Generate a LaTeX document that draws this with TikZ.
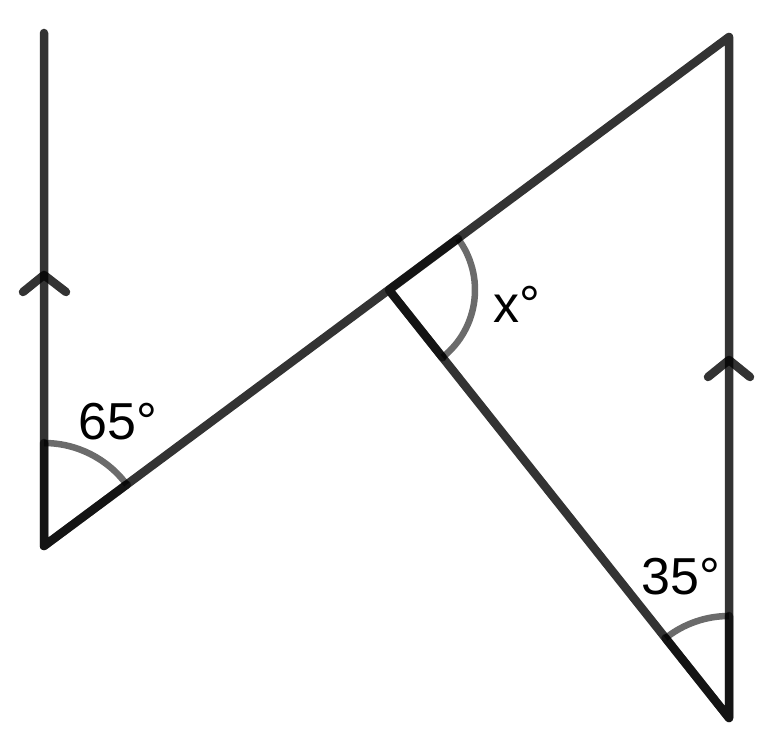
\documentclass[tikz,border=0pt]{standalone}
\usepackage{fontspec}
\setmainfont{Liberation Sans}
\usetikzlibrary{calc}
\begin{document}
\begin{tikzpicture}[x=1pt,y=1pt,
  seg/.style={line width=8.5pt,line cap=round,line join=round,draw=black,draw opacity=0.8},
  inner/.style={line width=8.5pt,line cap=round,line join=round,draw=black,draw opacity=0.6},
  anglearc/.style={line width=6.5pt,draw=black!58},
  lbl/.style={font=\fontsize{52}{52}\selectfont,inner sep=0pt,anchor=base west}]
\useasboundingbox (0,0) rectangle (777,750);
\coordinate (A) at (44,204);
\coordinate (L) at (44,717);
\coordinate (T) at (729,713);
\coordinate (B) at (729,32);
\coordinate (M) at (389,460);
\coordinate (CL) at (44,475);
\coordinate (CR) at (729,390);
% angle arcs
\draw[anglearc] ($(A)+(90:103)$) arc[start angle=90,end angle=36.6,radius=103];
\draw[anglearc] ($(M)+(36.6:86)$) arc[start angle=36.6,end angle=-51.5,radius=86];
\draw[anglearc] ($(B)+(90:102)$) arc[start angle=90,end angle=128.5,radius=102];
% main lines
\draw[seg] (L) -- (A) -- (T) -- (B) -- (M);
% darker sides inside arcs
\draw[inner] ($(A)!103pt!(L)$) -- (A) -- ($(A)!103pt!(T)$);
\draw[inner] ($(M)!86pt!(T)$) -- (M) -- ($(M)!86pt!(B)$);
\draw[inner] ($(B)!102pt!(T)$) -- (B) -- ($(B)!102pt!(M)$);
% parallel marks
\draw[seg] ($(CL)+(-21,-17)$) -- (CL) -- ($(CL)+(22,-17)$);
\draw[seg] ($(CR)+(-21,-17)$) -- (CR) -- ($(CR)+(21,-17)$);
% labels
\node[lbl] (l65) at (78,310) {65°};
\node[lbl] (lx) at (493,427) {x°};
\node[lbl] (l35) at (641,155) {35°};
\end{tikzpicture}
\end{document}
